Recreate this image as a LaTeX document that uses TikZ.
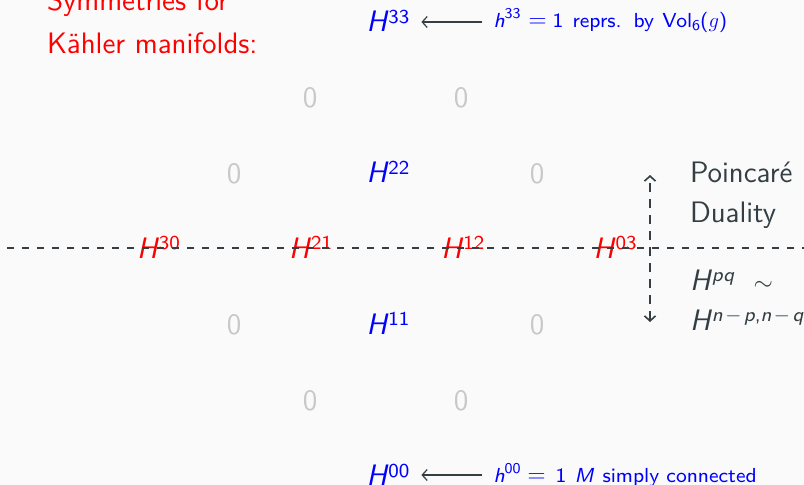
\documentclass[tikz,border=0pt]{standalone}
\usepackage{fontspec}
\renewcommand\familydefault{\sfdefault}
\newfontfamily\bigsans{lmsans12-regular.otf}[ItalicFont=lmsans12-oblique.otf]
\newfontfamily\smsans{lmsans8-regular.otf}[ItalicFont=lmsans8-oblique.otf]
\usetikzlibrary{arrows.meta,calc}
\definecolor{bg}{HTML}{FAFAFA}
\definecolor{fg}{HTML}{333F44}
\definecolor{zg}{HTML}{C8C8C8}
\definecolor{hred}{HTML}{FF0000}
\definecolor{hblue}{HTML}{0000FF}
\newcommand\bigf{\bigsans\fontsize{29.6}{35}\selectfont}
\newcommand\smf{\smsans\fontsize{20.3}{24}\selectfont}
\newcommand\Hup[1]{\textit{H\/}\raisebox{0.28em}{\smsans\fontsize{19.7}{20}\selectfont #1}}
\newcommand\hup[1]{\textit{h\/}\raisebox{0.42em}{\smsans\fontsize{15}{15}\selectfont #1}}
\newcommand\sbs[1]{\raisebox{-0.17em}{\smsans\fontsize{15}{15}\selectfont #1}}
\newcommand\at[2]{\makebox[0pt][l]{\hspace{#1}#2}}
\newcommand\mminus{\hspace{2.5pt}$-$\hspace{2.5pt}}
\newcommand\beq{{\fontsize{24}{24}\selectfont$=$}}
\begin{document}
\begin{tikzpicture}[x=1pt,y=-1pt,
  every node/.style={inner sep=0pt,outer sep=0pt,text=fg,font=\bigf},
  hnode/.style={anchor=base west},
  zero/.style={text=zg},
  small/.style={font=\smf,text=hblue,anchor=base west},
  label/.style={anchor=base west},
  dline/.style={draw=fg,line width=2pt,dash pattern=on 7pt off 8pt},
  marr/.style={draw=fg,line width=1.2pt,-{Straight Barb[length=5pt,width=11pt]}}]
\fill[bg] (0,0) rectangle (804,485);
\useasboundingbox (0,0) rectangle (804,485);
% title
\node[label,text=hred] (t1) at (47,10) {Symmetries for};
\node[label,text=hred] (t2) at (47,53) {K\"ahler manifolds:};
% diamond
\node[hnode,text=hblue] (h33) at (366.5,31.5) {\Hup{33}};
\node[zero] (z32) at (310,98) {0};
\node[zero] (z23) at (461,98) {0};
\node[zero] (z31) at (234,174) {0};
\node[hnode,text=hblue] (h22) at (366.5,182.5) {\Hup{22}};
\node[zero] (z13) at (537,174) {0};
\node[hnode,text=hred] (h30) at (137,258) {\Hup{30}};
\node[hnode,text=hred] (h21) at (289.2,258) {\Hup{21}};
\node[hnode,text=hred] (h12) at (441.4,258) {\Hup{12}};
\node[hnode,text=hred] (h03) at (593.6,258) {\Hup{03}};
\node[zero] (z20) at (234,325) {0};
\node[hnode,text=hblue] (h11) at (366.5,334) {\Hup{11}};
\node[zero] (z02) at (537,325) {0};
\node[zero] (z10) at (310,401) {0};
\node[zero] (z01) at (461,401) {0};
\node[hnode,text=hblue] (h00) at (366.5,485.5) {\Hup{00}};
% annotations
\node[small] (t33) at (493,27) {\at{0pt}{\hup{33}}\at{35pt}{\beq}\at{59pt}{1}\at{79pt}{reprs.}\at{140pt}{by}\at{169pt}{Vol\sbs{6}($g$)}\hspace{241pt}};
\node[small] (t00) at (493,482) {\at{0pt}{\hup{00}}\at{34pt}{\beq}\at{62pt}{1}\at{81pt}{\textit{M}}\at{109pt}{simply connected}\hspace{266pt}};
\coordinate (a33) at ($(t33.base west)+(-11,-5)$);
\coordinate (a00) at ($(t00.base west)+(-11,-7)$);
\draw[marr,shorten >=12pt] (a33) -- (a33 -| h33.east);
\draw[marr,shorten >=12pt] (a00) -- (a00 -| h00.east);
% Poincare duality
\node[label] (pd1) at (690,182) {Poincar\'e};
\node[label] (pd2) at (690,222) {Duality};
\node[label] (pd3) at (690,290) {\Hup{\textit{pq}}\ \ $\sim$};
\node[label] (pd4) at (690,330) {\Hup{\textit{n}\mminus\textit{p},\textit{n}\mminus\textit{q}}};
\coordinate (vt) at (650,175);
\coordinate (vb) at (650,322);
\draw[draw=fg,line width=1.6pt,dash pattern=on 9pt off 7pt,
  {Straight Barb[length=5pt,width=11pt]}-{Straight Barb[length=5pt,width=11pt]}] (vb) -- (vt);
% middle dashed line
\coordinate (hl) at (7,248);
\coordinate (hr) at (804,248);
\draw[dline] (hl) -- (hr);
\end{tikzpicture}
\end{document}
